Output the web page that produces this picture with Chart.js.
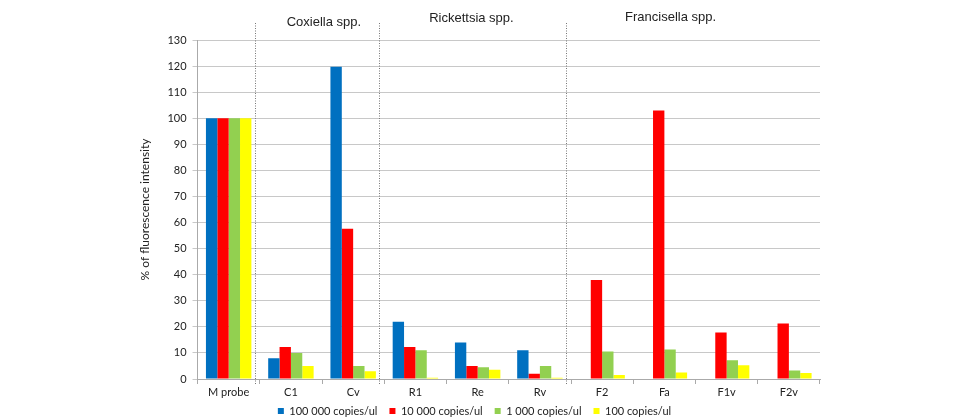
<!DOCTYPE html>
<html><head><meta charset="utf-8">
<script src="https://cdn.jsdelivr.net/npm/chart.js@4"></script>
<style>html,body{margin:0;padding:0;background:#fff;}#wrap{width:959px;height:420px;}</style>
</head><body><div id="wrap"><canvas id="c" width="959" height="420"></canvas></div>
<script>
const categories = ["M probe","C1","Cv","R1","Re","Rv","F2","Fa","F1v","F2v"];
const seriesNames = ["100 000 copies/ul","10 000 copies/ul","1 000 copies/ul","100 copies/ul"];
const s100000 = [100, 8, 119.7, 22, 14, 11, 0, 0, 0, 0];
const s10000  = [100, 12.3, 57.6, 12.3, 5, 2, 38, 103, 17.8, 21.3];
const s1000   = [100, 10, 5, 11, 4.5, 5, 10.5, 11.3, 7.2, 3.3];
const s100    = [100, 5, 3, 0.5, 3.5, 0.5, 1.5, 2.5, 5.3, 2.3];
const groupNames = ["Coxiella spp.","Rickettsia spp.","Francisella spp."];
const yTicks = [0,10,20,30,40,50,60,70,80,90,100,110,120,130];

const colors = ["#0070C0","#FF0000","#92D050","#FFFF00"];
const separatorsAfter = [0, 2, 5];      // dotted line after these category indices
const sepShift = -5;
const groupCenters = [1.53, 3.9, 7.1];  // label anchor in category index units
const groupLabelY = [22, 18, 17];
const legendLift = 7.5;

const groupPlugin = {
  id: 'groups',
  afterLayout(chart) {
    if (chart.legend) { chart.legend.top -= legendLift; }
  },
  afterDraw(chart) {
    const ctx = chart.ctx, x = chart.scales.x, area = chart.chartArea;
    ctx.save();
    ctx.strokeStyle = '#777';
    ctx.lineWidth = 1;
    ctx.setLineDash([1, 1.5]);
    separatorsAfter.forEach(i => {
      const px = Math.round((x.getPixelForValue(i) + x.getPixelForValue(i + 1)) / 2 + sepShift) + 0.5;
      ctx.beginPath(); ctx.moveTo(px, 23); ctx.lineTo(px, area.bottom + 6); ctx.stroke();
    });
    ctx.setLineDash([]);
    ctx.fillStyle = '#222';
    ctx.font = '13px "Liberation Sans Narrow", "Liberation Sans", Arial, sans-serif';
    ctx.textAlign = 'center';
    ctx.textBaseline = 'middle';
    groupNames.forEach((g, k) => {
      const c = groupCenters[k];
      const f = Math.floor(c), fr = c - f;
      const px = x.getPixelForValue(f) + fr * (x.getPixelForValue(f + 1) - x.getPixelForValue(f));
      ctx.fillText(g, px, groupLabelY[k]);
    });
    ctx.restore();
  }
};

const font = '"Lato", "Open Sans", sans-serif';
new Chart(document.getElementById('c'), {
  type: 'bar',
  data: {
    labels: categories,
    datasets: [s100000, s10000, s1000, s100].map((d, i) => ({
      label: seriesNames[i], data: d, backgroundColor: colors[i], borderWidth: 0,
      barPercentage: 1.0, categoryPercentage: 0.73
    }))
  },
  options: {
    responsive: false, animation: false,
    layout: { padding: { left: 129, right: 139, top: 40, bottom: 0 } },
    plugins: {
      legend: { position: 'bottom', maxHeight: 19, labels: { boxWidth: 6, boxHeight: 6, font: { family: font, size: 11 }, color: '#222', padding: 12 } },
      tooltip: { enabled: false }
    },
    scales: {
      x: {
        grid: { display: true, drawOnChartArea: false, offset: true, color: '#aaa', tickLength: 5 },
        border: { color: '#aaa' },
        ticks: { font: { family: font, size: 11, lineHeight: 1 }, color: '#222', padding: 3 }
      },
      y: {
        min: 0, max: 130,
        afterBuildTicks(scale) { scale.ticks = yTicks.map(v => ({ value: v })); },
        grid: { color: '#c8c8c8', tickLength: 5 },
        border: { color: '#aaa' },
        ticks: { font: { family: font, size: 11 }, color: '#222', padding: 6 },
        title: { display: true, text: '% of fluorescence intensity', font: { family: font, size: 12 }, color: '#222', padding: 9 }
      }
    }
  },
  plugins: [groupPlugin]
});
</script></body></html>
